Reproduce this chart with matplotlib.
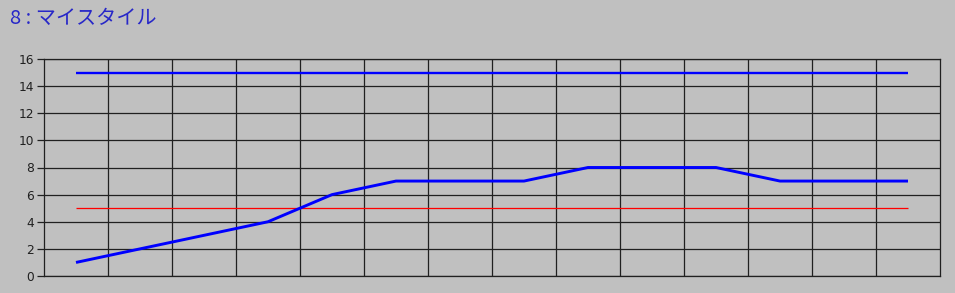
import matplotlib
matplotlib.use("Agg")
import matplotlib.pyplot as plt
from matplotlib.ticker import MultipleLocator

plt.rcParams['font.family'] = ['Noto Sans CJK JP', 'DejaVu Sans']

# データ
points = list(range(1, 15))          # 14 区間
my_style = [1, 2, 3, 4, 6, 7, 7, 7, 8, 8, 8, 7, 7, 7]
upper = [15] * 14
lower = [5] * 14
title = "8 : マイスタイル"

bg = "#c0c0c0"
fig = plt.figure(figsize=(9.55, 2.93), dpi=100, facecolor=bg)
ax = fig.add_axes([44 / 955, 1 - 276 / 293, 896 / 955, 217 / 293], facecolor=bg)

ax.plot(points, upper, color="#0000ff", lw=1.7, solid_capstyle="butt")
ax.plot(points, lower, color="#ff0000", lw=0.9, solid_capstyle="butt")
ax.plot(points, my_style, color="#0000ff", lw=2.1, solid_capstyle="butt")

ax.set_xlim(0.5, 14.5)
ax.set_ylim(0, 16)
ax.yaxis.set_major_locator(MultipleLocator(2))
ax.set_xticks([i + 0.5 for i in points[:-1]])
ax.set_xticklabels([])
ax.tick_params(axis="x", length=0)
ax.tick_params(axis="y", length=5, width=0.9, color="#202020", labelsize=8.8,
               labelcolor="#202020", pad=2)
for lbl in ax.get_yticklabels():
    lbl.set_family("DejaVu Sans")
ax.grid(True, color="#202020", lw=0.9)
ax.set_axisbelow(True)
for s in ax.spines.values():
    s.set_color("#202020")
    s.set_linewidth(0.9)

fig.text(10 / 955, 1 - 18 / 293, title, color="#2828c8", fontsize=14.5,
         va="center", ha="left")

fig.savefig("out.png", dpi=100, facecolor=bg)
